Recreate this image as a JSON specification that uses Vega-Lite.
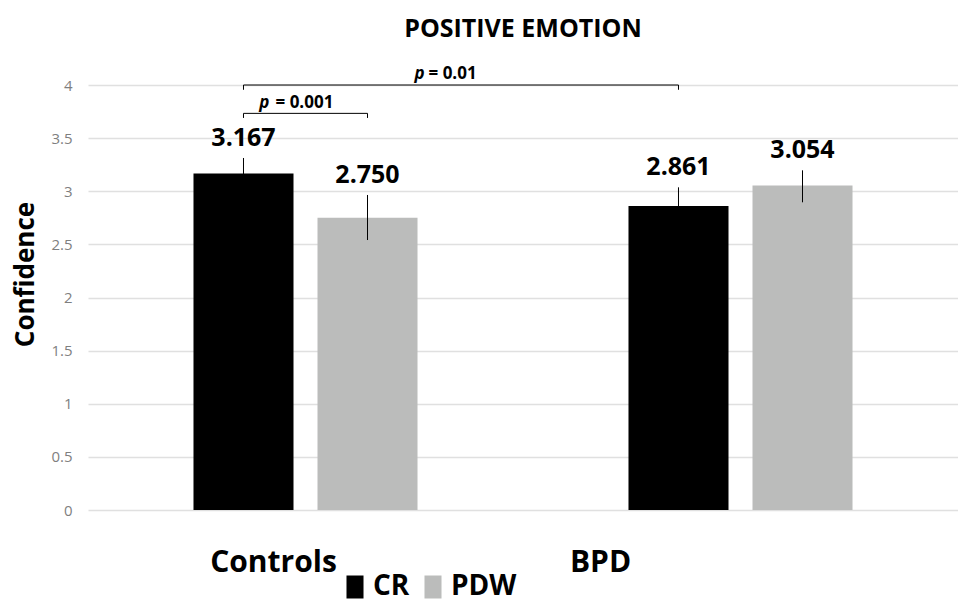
{
  "$schema": "https://vega.github.io/schema/vega-lite/v6.json",
  "width": 870,
  "height": 425,
  "autosize": {"type": "none"},
  "padding": {"left": 88, "top": 85, "right": 0, "bottom": 92},
  "background": "white",
  "title": {"text": "POSITIVE EMOTION", "font": "Open Sans", "fontSize": 25, "fontWeight": "bold", "color": "#000000", "anchor": "middle", "frame": "group", "offset": 23},
  "config": {
    "view": {"stroke": null},
    "font": "Open Sans",
    "axisY": {
      "titleFont": "Open Sans", "titleFontSize": 26, "titleFontWeight": "bold", "titleColor": "#000000",
      "titlePadding": 12, "titleY": 189,
      "domain": false, "ticks": false, "labelPadding": 16,
      "labelFont": "Open Sans", "labelFontSize": 15, "labelColor": "#7f7f7f",
      "grid": true, "gridColor": "#e0e0e0", "gridWidth": 1.3
    }
  },
  "datasets": {
    "bars": [
      {"group": "Controls", "condition": "CR", "mean": 3.167, "lo": 3.021, "hi": 3.313},
      {"group": "Controls", "condition": "PDW", "mean": 2.750, "lo": 2.541, "hi": 2.965},
      {"group": "BPD", "condition": "CR", "mean": 2.861, "lo": 2.685, "hi": 3.037},
      {"group": "BPD", "condition": "PDW", "mean": 3.054, "lo": 2.896, "hi": 3.197}
    ],
    "brackets": [
      {"bracket": "b1", "ord": 1, "group": "Controls", "condition": "CR", "y": 3.69},
      {"bracket": "b1", "ord": 2, "group": "Controls", "condition": "CR", "y": 3.733},
      {"bracket": "b1", "ord": 3, "group": "Controls", "condition": "PDW", "y": 3.733},
      {"bracket": "b1", "ord": 4, "group": "Controls", "condition": "PDW", "y": 3.69},
      {"bracket": "b2", "ord": 1, "group": "Controls", "condition": "CR", "y": 3.955},
      {"bracket": "b2", "ord": 2, "group": "Controls", "condition": "CR", "y": 4.0},
      {"bracket": "b2", "ord": 3, "group": "BPD", "condition": "CR", "y": 4.0},
      {"bracket": "b2", "ord": 4, "group": "BPD", "condition": "CR", "y": 3.955}
    ],
    "p1": [{"group": "Controls", "condition": "CR", "y": 3.733, "p": "p", "rest": "= 0.001"}],
    "p2": [{"group": "Controls", "condition": "PDW", "y": 4.0, "p": "p", "rest": "= 0.01"}]
  },
  "encoding": {
    "x": {
      "field": "group", "type": "nominal", "sort": ["Controls", "BPD"],
      "scale": {"domain": ["Controls", "BPD"], "paddingInner": 0.485, "paddingOuter": 0.2425},
      "axis": {
        "title": null, "domain": false, "ticks": false, "labelAngle": 0,
        "labelFont": "Open Sans", "labelFontSize": 30, "labelFontWeight": "bold", "labelColor": "#000000",
        "labelPadding": 37, "labelBaseline": "top",
        "labelOffset": {"condition": {"test": "datum.value === 'Controls'", "value": -32}, "value": -140}
      }
    },
    "xOffset": {
      "field": "condition", "type": "nominal", "sort": ["CR", "PDW"],
      "scale": {"domain": ["CR", "PDW"], "paddingInner": 0.1935, "paddingOuter": 0}
    }
  },
  "layer": [
    {
      "data": {"name": "bars"},
      "mark": {"type": "bar"},
      "encoding": {
        "y": {
          "field": "mean", "type": "quantitative",
          "scale": {"domain": [0, 4], "nice": false, "zero": true},
          "axis": {"title": "Confidence", "values": [0, 0.5, 1, 1.5, 2, 2.5, 3, 3.5, 4], "format": "~g"}
        },
        "color": {
          "field": "condition", "type": "nominal",
          "scale": {"domain": ["CR", "PDW"], "range": ["#000000", "#bbbcbb"]},
          "legend": {
            "orient": "none", "legendX": 253, "legendY": 488, "direction": "horizontal", "title": null,
            "labelFont": "Open Sans", "labelFontSize": 28, "labelFontWeight": "bold", "labelColor": "#000000",
            "symbolType": "M-0.74,-1H0.74V1H-0.74Z", "symbolSize": 529, "symbolStrokeWidth": 0, "symbolOpacity": 1,
            "labelOffset": 4, "columnPadding": 9
          }
        }
      }
    },
    {
      "data": {"name": "bars"},
      "mark": {"type": "rule", "color": "#000000", "strokeWidth": 1},
      "encoding": {
        "y": {"field": "lo", "type": "quantitative"},
        "y2": {"field": "hi"}
      }
    },
    {
      "data": {"name": "bars"},
      "mark": {"type": "text", "font": "Open Sans", "fontSize": 25, "fontWeight": "bold", "color": "#000000", "baseline": "alphabetic", "dy": -12},
      "encoding": {
        "y": {"field": "hi", "type": "quantitative"},
        "text": {"field": "mean", "type": "quantitative", "format": ".3f"}
      }
    },
    {
      "data": {"name": "brackets"},
      "mark": {"type": "line", "color": "#000000", "strokeWidth": 1},
      "encoding": {
        "y": {"field": "y", "type": "quantitative"},
        "detail": {"field": "bracket"},
        "order": {"field": "ord"}
      }
    },
    {
      "data": {"name": "p1"},
      "mark": {"type": "text", "font": "Open Sans", "fontSize": 17, "fontWeight": "bold", "fontStyle": "italic", "align": "right", "baseline": "alphabetic", "dx": 26, "dy": -5, "color": "#000000"},
      "encoding": {"y": {"field": "y", "type": "quantitative"}, "text": {"field": "p"}}
    },
    {
      "data": {"name": "p1"},
      "mark": {"type": "text", "font": "Open Sans", "fontSize": 17, "fontWeight": "bold", "align": "left", "baseline": "alphabetic", "dx": 32, "dy": -5, "color": "#000000"},
      "encoding": {"y": {"field": "y", "type": "quantitative"}, "text": {"field": "rest"}}
    },
    {
      "data": {"name": "p2"},
      "mark": {"type": "text", "font": "Open Sans", "fontSize": 17, "fontWeight": "bold", "fontStyle": "italic", "align": "right", "baseline": "alphabetic", "dx": 57, "dy": -6, "color": "#000000"},
      "encoding": {"y": {"field": "y", "type": "quantitative"}, "text": {"field": "p"}}
    },
    {
      "data": {"name": "p2"},
      "mark": {"type": "text", "font": "Open Sans", "fontSize": 17, "fontWeight": "bold", "align": "left", "baseline": "alphabetic", "dx": 61, "dy": -6, "color": "#000000"},
      "encoding": {"y": {"field": "y", "type": "quantitative"}, "text": {"field": "rest"}}
    }
  ]
}
